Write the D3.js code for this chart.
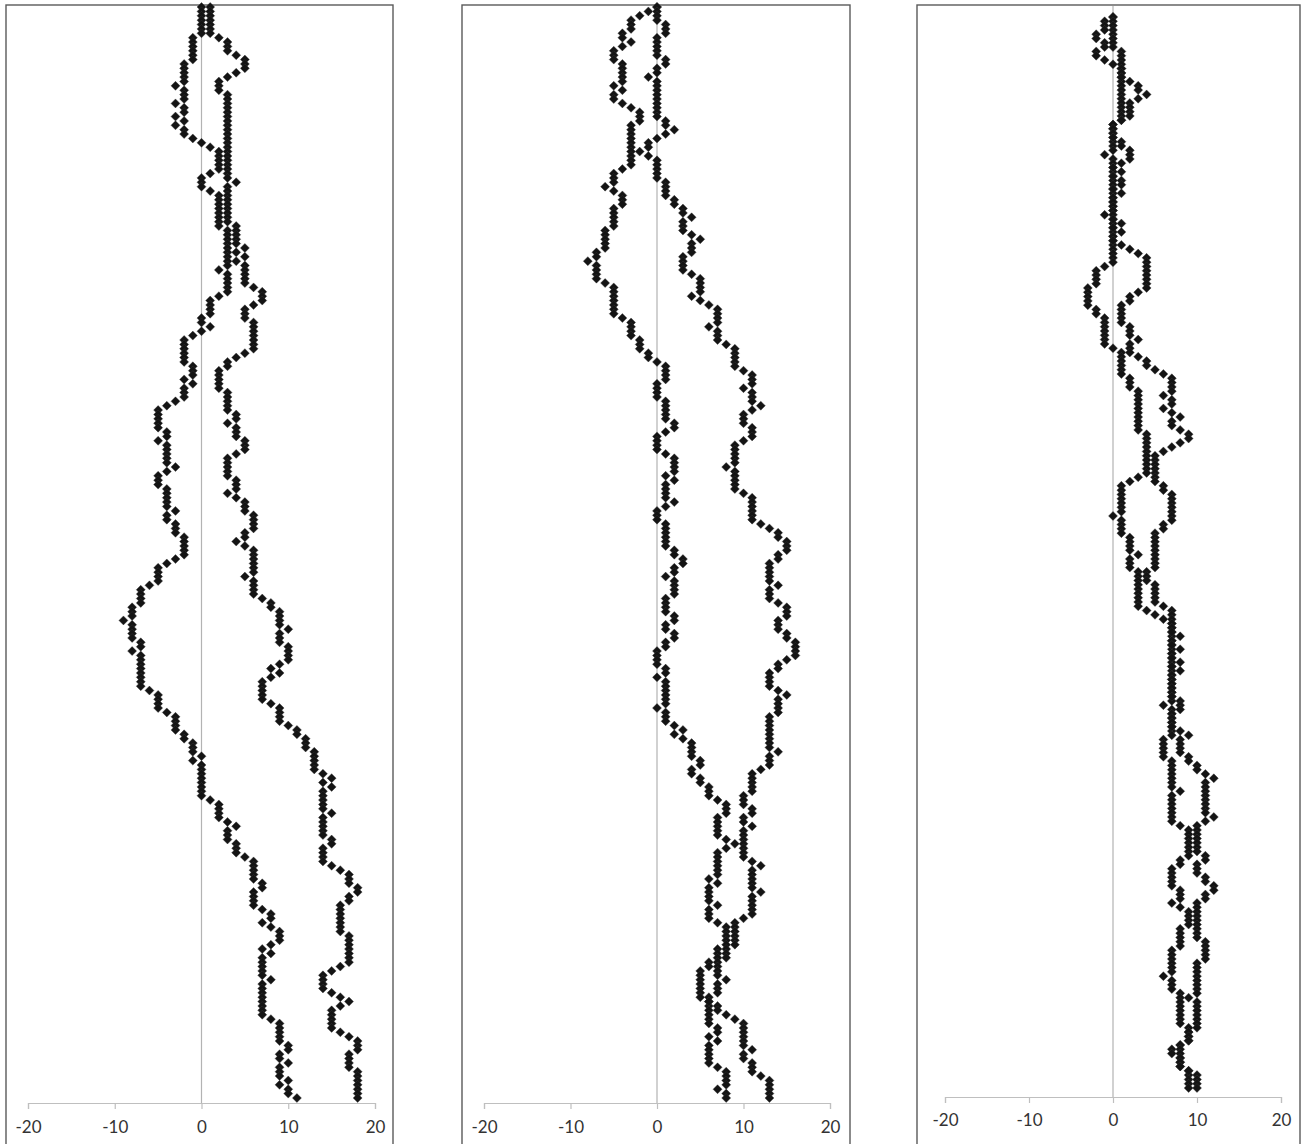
<!DOCTYPE html>
<html>
<head>
<meta charset="utf-8">
<script src="https://cdn.jsdelivr.net/npm/d3@7"></script>
<style>
  body { margin: 0; background: #fff; }
</style>
</head>
<body>
<svg id="chart" width="1304" height="1144"></svg>
<script>
/***********************************************************************************/
// Data
// x ticks shared by the three panels
var xTicks = [-20, -10, 0, 10, 20];

// Each walk is read top to bottom as [x value, number of consecutive steps at that value]
var p1Left = [[0,7],[-1,6],[-2,5],[-3,1],[-2,3],[-3,1],[-2,2],[-3,1],[-2,1],[-3,1],[-2,2],[-1,1],[0,1],[1,1],[2,5],[1,1],[0,3],[1,1],[2,8],[3,9],[2,1],[3,5],[2,1],[1,4],[0,2],[1,1],[0,1],[-1,1],[-2,6],[-1,3],[-2,1],[-1,1],[-2,3],[-3,1],[-4,1],[-5,5],[-4,2],[-5,1],[-4,5],[-3,1],[-4,1],[-5,3],[-4,5],[-3,1],[-4,2],[-3,3],[-2,5],[-3,1],[-4,1],[-5,4],[-6,1],[-7,4],[-8,3],[-9,1],[-8,4],[-7,2],[-8,1],[-7,8],[-6,1],[-5,4],[-4,1],[-3,4],[-2,2],[-1,3],[0,1],[-1,1],[0,8],[1,1],[2,4],[3,1],[4,1],[3,3],[4,3],[5,1],[6,5],[7,2],[6,4],[7,1],[8,2],[7,1],[8,1],[9,3],[8,1],[7,1],[8,1],[7,5],[8,1],[7,8],[8,1],[9,5],[10,2],[9,2],[10,1],[9,3],[10,1],[9,1],[10,2],[11,1]];
var p1Right = [[1,7],[2,1],[3,3],[4,1],[5,3],[4,1],[3,1],[2,3],[3,20],[4,1],[3,9],[4,5],[5,1],[4,1],[5,1],[4,1],[5,5],[6,1],[7,3],[6,1],[5,3],[6,7],[5,1],[4,1],[3,2],[2,5],[3,5],[4,2],[3,1],[4,3],[5,3],[4,1],[3,5],[4,3],[3,1],[4,1],[5,3],[6,4],[5,2],[4,1],[5,1],[6,6],[5,1],[6,4],[7,1],[8,2],[9,4],[10,1],[9,3],[10,4],[9,1],[8,1],[9,1],[8,1],[7,5],[8,1],[9,4],[10,1],[11,2],[12,3],[13,5],[14,1],[15,1],[14,1],[15,1],[14,5],[15,1],[14,5],[15,2],[14,4],[15,1],[16,1],[17,3],[18,2],[17,2],[16,7],[17,7],[16,1],[15,1],[14,4],[15,1],[16,1],[17,1],[16,1],[15,5],[16,1],[17,1],[18,3],[17,4],[18,7]];

var p2Left = [[0,1],[-1,1],[-2,1],[-3,3],[-4,2],[-3,1],[-4,1],[-5,3],[-4,5],[-5,1],[-4,1],[-5,2],[-4,1],[-3,1],[-2,3],[-3,10],[-4,1],[-5,3],[-6,1],[-5,1],[-4,3],[-5,5],[-6,5],[-7,2],[-8,1],[-7,4],[-6,1],[-5,7],[-4,1],[-3,4],[-2,3],[-1,2],[0,1],[1,4],[0,4],[1,5],[2,2],[1,1],[0,4],[1,1],[2,4],[1,1],[2,1],[1,4],[2,1],[1,1],[0,3],[1,6],[2,2],[3,2],[2,2],[1,1],[2,4],[1,4],[2,2],[1,2],[2,2],[1,2],[0,4],[1,2],[0,1],[1,6],[0,1],[1,3],[2,1],[3,1],[2,1],[3,1],[4,4],[5,2],[4,2],[5,2],[6,3],[7,1],[8,3],[7,5],[8,1],[9,1],[8,1],[7,6],[6,1],[7,1],[6,4],[7,1],[6,3],[7,1],[8,5],[7,3],[6,2],[5,7],[6,6],[7,2],[6,1],[7,1],[6,5],[7,1],[8,4],[7,1],[8,2]];
var p2Right = [[0,4],[1,3],[0,5],[1,2],[0,2],[-1,1],[0,9],[1,2],[2,1],[1,1],[0,1],[-1,2],[-2,1],[-1,1],[0,5],[1,4],[2,2],[3,2],[4,1],[3,3],[4,1],[5,1],[4,3],[3,4],[4,1],[5,4],[4,1],[5,1],[6,1],[7,4],[6,1],[7,3],[8,1],[9,5],[10,1],[11,3],[10,1],[11,3],[12,1],[11,1],[10,3],[11,3],[10,1],[9,5],[8,1],[9,5],[10,1],[11,6],[12,1],[13,1],[14,2],[15,3],[14,2],[13,5],[14,1],[13,3],[14,1],[15,3],[14,3],[15,2],[16,4],[15,1],[14,2],[13,4],[14,1],[15,1],[14,4],[13,8],[14,1],[13,3],[12,1],[11,5],[10,3],[11,2],[10,2],[11,1],[10,7],[11,1],[12,1],[11,5],[12,1],[11,5],[10,1],[9,6],[8,3],[7,4],[8,1],[7,3],[6,2],[7,2],[8,1],[9,1],[10,6],[11,1],[10,2],[11,3],[12,1],[13,5]];

var p3Left = [[0,1],[-1,3],[-2,2],[-1,2],[-2,2],[-1,1],[0,1],[1,13],[0,7],[-1,1],[0,13],[-1,1],[0,11],[-1,1],[-2,4],[-3,5],[-2,2],[-1,7],[0,1],[1,6],[2,3],[3,10],[4,10],[3,1],[2,1],[1,7],[0,1],[1,4],[2,4],[3,1],[2,3],[3,9],[4,1],[5,1],[6,1],[7,19],[6,1],[7,7],[6,5],[7,7],[8,1],[7,7],[8,1],[9,7],[8,2],[7,5],[8,3],[7,1],[8,1],[9,4],[8,5],[7,6],[6,1],[7,3],[8,8],[9,4],[8,1],[7,2],[8,3],[9,5]];
var p3Right = [[0,8],[1,7],[2,1],[3,2],[4,1],[3,1],[2,4],[1,1],[0,4],[1,2],[2,3],[1,1],[0,1],[1,1],[0,1],[1,2],[0,1],[1,1],[0,6],[1,1],[0,1],[1,1],[0,2],[1,1],[2,1],[3,1],[4,8],[3,1],[2,2],[1,5],[2,3],[3,1],[2,3],[3,1],[4,2],[5,1],[6,1],[7,4],[6,1],[7,2],[6,1],[7,1],[8,1],[7,2],[8,1],[9,2],[8,1],[7,1],[6,1],[5,7],[6,2],[7,7],[6,2],[5,9],[4,3],[5,5],[6,1],[7,6],[8,1],[7,2],[8,1],[7,2],[8,1],[7,1],[8,1],[7,6],[8,3],[7,4],[8,1],[9,1],[8,4],[9,2],[10,2],[11,1],[12,1],[11,8],[12,1],[11,1],[10,7],[11,2],[10,3],[11,2],[12,2],[11,2],[10,9],[11,5],[10,8],[9,1],[10,7],[9,3],[8,6],[9,1],[10,4]];

var nSteps = 250;

/***********************************************************************************/
// Layout of the three panels
var panels = [
  { walks: [p1Left, p1Right], frame: [6, 393],    xr: [28, 375],   yr: [7, 1098],  axisY: 1103, labelY: 1133 },
  { walks: [p2Left, p2Right], frame: [462, 850],  xr: [484, 830],  yr: [7, 1098],  axisY: 1103, labelY: 1133 },
  { walks: [p3Left, p3Right], frame: [917, 1300], xr: [945, 1281], yr: [17, 1088], axisY: 1097, labelY: 1126 }
];

// Expand [value, count] runs into one value per step
function expand(runs){
  var out = [];
  runs.forEach(function(r){
    for (var k = 0; k < r[1]; k++) out.push(r[0]);
  });
  return out;
}

// Diamond marker
function diamond(h){
  return 'M0,' + (-h) + 'L' + h + ',0L0,' + h + 'L' + (-h) + ',0Z';
}

var svg = d3.select('#chart');

/***********************************************************************************/
// Draw each panel
panels.forEach(function(p){
  var g = svg.append('g');
  var x = d3.scaleLinear().domain([-20, 20]).range(p.xr);
  var y = d3.scaleLinear().domain([0, nSteps - 1]).range(p.yr);

  // frame
  g.append('rect')
    .attr('x', p.frame[0]).attr('y', 5)
    .attr('width', p.frame[1] - p.frame[0]).attr('height', 1200)
    .attr('fill', 'none').attr('stroke', '#5a5a5a').attr('stroke-width', 1.4);

  // zero line
  g.append('line')
    .attr('x1', x(0)).attr('x2', x(0))
    .attr('y1', 6).attr('y2', p.axisY)
    .attr('stroke', '#b3b3b3').attr('stroke-width', 1.2);

  // x axis (plain hyphen for negatives, as in the original)
  var axis = d3.axisBottom(x).tickValues(xTicks).tickSize(6).tickPadding(12)
    .tickFormat(function(d){ return String(d); });
  var ax = g.append('g').attr('transform', 'translate(0,' + p.axisY + ')').call(axis);
  ax.select('.domain').attr('stroke', '#bfbfbf').attr('stroke-width', 1.2);
  ax.selectAll('.tick line').attr('stroke', '#bfbfbf').attr('stroke-width', 1.2);
  ax.selectAll('.tick text')
    .attr('y', p.labelY - p.axisY).attr('dy', 0)
    .attr('fill', '#333')
    .style('font-family', 'Lato, "Open Sans", sans-serif')
    .style('font-size', '17px');

  // walks
  p.walks.forEach(function(runs){
    var pts = expand(runs).map(function(v, i){ return { v: v, i: i }; });
    g.append('g').selectAll('path')
      .data(pts)
      .enter().append('path')
      .attr('d', diamond(4.5))
      .attr('transform', function(d){ return 'translate(' + x(d.v) + ',' + y(d.i) + ')'; })
      .attr('fill', '#141414')
      .attr('stroke', '#3a3a3a')
      .attr('stroke-width', 0.4);
  });
});
</script>
</body>
</html>
